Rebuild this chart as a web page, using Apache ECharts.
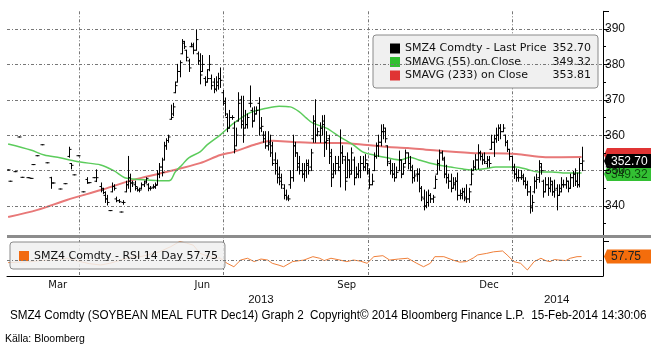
<!DOCTYPE html>
<html>
<head>
<meta charset="utf-8">
<script src="https://cdn.jsdelivr.net/npm/echarts@6/dist/echarts.min.js"></script>
<style>
  html, body { margin: 0; padding: 0; background: #fff; }
  #chart { width: 651px; height: 351px; }
</style>
</head>
<body>
<div id="chart"></div>
<script>
// trading calendar (x axis is by trading day, like the terminal does)
const firstDay = '2013-02-12';
const dayCount = 264;
const holidays = ['2013-02-18', '2013-03-29', '2013-05-27', '2013-07-04', '2013-09-02',
  '2013-11-28', '2013-12-25', '2014-01-01', '2014-01-20', '2014-02-17'];
const monthNames = ['Jan', 'Feb', 'Mar', 'Apr', 'May', 'Jun', 'Jul', 'Aug', 'Sep', 'Oct', 'Nov', 'Dec'];
const labelMonths = ['Mar', 'Jun', 'Sep', 'Dec'];
const quarterMonths = [0, 3, 6, 9];
const priceTicks = [340, 350, 360, 370, 380, 390];

// daily bars [open, high, low, close], null = no trade
const feb13 = [
  [350.2, 350.2, 350.2, 350.2], [347, 347, 347, 347], null, [349.7, 349.7, 349.7, 349.7],
  null, [359.5, 359.5, 359.5, 359.5], [348.1, 348.1, 348.1, 348.1], null,
  null, [348, 348, 348, 348], [347.8, 347.8, 347.8, 347.8], [351.7, 351.7, 351.7, 351.7]
];
const mar13 = [
  null, [354.2, 354.2, 354.2, 354.2], null, [357.3, 357.3, 357.3, 357.3], null,
  [352.2, 352.2, 352.2, 352.2], null, [348, 348.1, 345, 346.5], [346.5, 346.5, 346.5, 346.5], null,
  null, [344.8, 344.8, 344.8, 344.8], null, [346.3, 346.3, 346.3, 346.3], null,
  [354, 356.6, 353.8, 356], [352, 352, 350.5, 351.5], [348.8, 348.8, 348.8, 348.8], null, [354.2, 354.2, 354.2, 354.2]
];
const apr13 = [
  null, [344, 344, 344, 344], null, [347.5, 348, 346.4, 346.5], [346.6, 346.6, 346.6, 346.6],
  null, [348, 348, 348, 348], [347, 350.2, 346.9, 348], null, [345.5, 346.5, 344, 345],
  [344.5, 345, 343.5, 343.8], [343, 344, 341, 342], [342, 343, 340.3, 341], [338.7, 338.7, 338.7, 338.7],
  [344, 346.5, 344, 345.5], [345.5, 346, 344.5, 345], [342, 342.5, 341.2, 341.5], [341.5, 341.8, 341, 341.2],
  [338.3, 338.3, 338.3, 338.3], [341, 341.5, 340.5, 341], [344, 347, 344, 346], [346, 354, 345, 348]
];
const may13 = [
  [347, 349, 344, 346.5], [346.5, 347, 345.5, 346.5], [346, 347, 344.5, 345.5], [345, 345.2, 344.2, 344.5],
  [344.5, 345, 344, 344.5], [345, 346.5, 344.8, 346], [346, 347, 345.5, 346.5], [347, 348, 346.5, 347.8],
  [346, 346.3, 344.3, 345], [345, 345.5, 344.5, 345], [345.3, 346, 345, 345.3], [345.5, 346.5, 345, 345.8],
  [346, 350, 346, 349], [349, 352, 348, 351], [351, 353.5, 348.5, 349.5], [353, 358, 353, 357],
  [357, 359, 356, 358.5], [358.5, 360, 358, 359.5], [364.5, 368.5, 364.5, 365], [366, 369, 365.5, 368],
  [372, 375, 372, 374], [375, 380, 375, 378]
];
const jun13 = [
  [378, 381, 376.5, 380.5], [383, 387, 383, 386.5], [386, 386.5, 384.5, 385], [384, 384, 381, 382],
  [381, 381.5, 378, 379], [385, 386, 385, 385.5], [385, 386, 383, 384], [384, 389.7, 384, 387],
  [383, 383.5, 380, 381], [381, 383, 374.5, 377], [378, 382.5, 378, 380], [376, 376.5, 374, 375],
  [375, 378.5, 375, 376], [378.5, 382.5, 378.2, 380], [376, 377, 373, 374], [375, 376, 372, 373],
  [373, 376.5, 372.5, 375], [374, 377.5, 373, 376], [376, 379, 373.5, 375.5], [372, 372.7, 368.5, 369.5]
];
const jul13 = [
  [369, 370.5, 365.5, 366], [365, 366, 361, 362], [362, 367, 362, 365], [365, 365.5, 364.5, 365],
  [362, 363.7, 355, 356], [357, 362, 357, 360], [364, 372, 364, 369], [370, 371, 362, 364],
  [363, 371, 358, 360], [362, 367, 362, 363], [363, 366, 362, 365], [369, 373.9, 368, 369],
  [367, 367.7, 362.3, 364], [364, 368, 364, 366], [366, 368, 366, 367], [369, 370.6, 360, 362],
  [362, 365, 361, 362.5], [360, 361, 358, 359], [360, 361, 356.3, 357], [357, 361, 355.8, 357.5],
  [358, 360, 354, 355], [357, 358, 351.5, 352]
];
const aug13 = [
  [353, 355, 349, 350], [352, 353, 346.5, 348], [349, 351, 346, 347], [348, 349, 345, 346],
  [345, 346, 342, 343], [343, 344.5, 341.7, 342.5], [342, 343, 341.5, 342], [346, 350, 345, 348],
  [348, 360, 347, 357], [357, 358, 354, 355], [355, 355, 350, 351], [352, 354, 349, 350],
  [350, 352, 348, 349], [349, 352, 347, 350], [350, 353, 348, 351.5], [352, 353, 349, 350],
  [351, 356, 350, 355], [359, 365.5, 358, 364], [364, 370, 358, 360], [360, 362, 359.8, 361],
  [360, 363.5, 358, 362], [362, 365.5, 360, 363]
];
const sep13 = [
  [364, 365.6, 354, 358], [358, 361, 356, 358.5], [359, 360, 352, 354], [355, 356, 345.5, 348],
  [349, 352, 348, 350], [350, 354, 349, 352], [352, 354, 350, 351], [350, 361.5, 345.4, 355],
  [355, 357, 352, 354], [353, 354, 344.5, 347], [348, 355, 348, 353], [353, 353, 348, 349],
  [350, 356.4, 349, 355], [353, 353.8, 346, 348], [348, 351, 348, 349], [349, 352, 348, 350],
  [350, 354, 348, 352], [352, 354, 350, 351], [351, 354.5, 350, 353], [352, 352, 349, 350]
];
const oct13 = [
  [350, 350.5, 345, 346], [346, 349, 346, 347], [350, 355, 350, 354], [354, 357.8, 353.5, 357],
  [357, 360, 354, 358], [358, 362.9, 357, 361], [361, 363, 359, 362], [361, 362, 358, 359],
  [357, 357, 351.4, 352.5], [352, 353, 349, 350], [350, 352, 348, 349], [349, 352, 347, 348],
  [348, 351, 348, 349.5], [350, 355.5, 350, 353], [353, 353, 348, 349], [349, 352, 349, 351],
  [352, 355.8, 352, 355], [355, 355, 350.5, 352], [352, 354, 350, 351], [350, 351.5, 346.5, 348],
  [348, 350, 347, 348.5], [349, 350.5, 347, 349], [349, 350.5, 344, 345]
];
const nov13 = [
  [345, 345.5, 341.5, 342.5], [342, 344.5, 338.9, 340], [340, 344, 339.5, 341], [341, 344.5, 340, 343],
  [343, 343.5, 341, 342], [342, 343, 341, 342.5], [345, 348.5, 345, 347.5], [349, 353, 349, 352],
  [352, 355.8, 350.2, 355], [355, 355.5, 353, 353.5], [353, 353.8, 348, 349], [349, 351.5, 346.5, 348],
  [348, 349, 345, 347], [347, 349, 344, 345], [345, 348, 345, 346.5], [346, 348, 344.5, 347],
  [347, 349.3, 341.7, 343], [343, 344.5, 342, 343.5], [343, 345, 342, 344], [344, 345, 341.5, 342.5]
];
const dec13 = [
  [342, 346, 341, 342], [342, 345, 341, 344], [346, 350.5, 346, 349], [350, 352.8, 350, 351],
  [351, 354.5, 350.3, 353], [353, 357.3, 350.5, 355], [355, 355.5, 353, 354], [354, 354.7, 351.8, 353],
  [353, 355, 352, 352.5], [352, 354, 351, 353], [353, 354, 351, 352], [356, 360, 356, 358],
  [358, 360, 354, 359], [359, 362, 358, 360], [360, 362.9, 358.5, 362], [362, 363, 359, 361],
  [361, 363, 361, 362], [360, 360, 357, 358], [358, 358.5, 355.4, 356], [356, 356, 353, 354],
  [354, 354, 350.2, 351]
];
const jan14 = [
  [350, 351.8, 347.8, 349], [349, 350.5, 347, 348], [348, 350.2, 347, 348], [348, 350, 347.5, 348.5],
  [348, 349, 346, 347], [347, 348, 345, 346], [346, 347, 343, 344], [344, 345.5, 338, 339.5],
  [340, 343, 338.5, 341], [344, 348.2, 343.7, 347], [347, 349, 345, 347.5], [348, 352.8, 346.7, 352],
  [351, 352, 349, 350], [347, 347.3, 342.5, 344], [344, 348, 344, 346], [346, 348, 343, 345],
  [345, 348, 344, 347], [346, 347, 343, 344], [344, 347.3, 342.5, 344.5], [345, 346, 338.9, 343],
  [343, 346, 343, 344]
];
const feb14 = [
  [345, 348, 344, 346], [346, 347.3, 345.3, 346], [346, 348, 345, 347], [347, 347, 344, 345],
  [345, 349, 345, 348], [348, 349.8, 345.5, 349], [349, 350.5, 345.8, 347], [347, 349.3, 345.3, 346],
  [346, 353.4, 345.4, 352], [352, 356.6, 350, 352.7]
];

// moving averages, [trading day index, value]
const sma55 = [
  [0, 357.5], [10, 355.8], [16, 354.4], [23, 353.6], [32, 352.4], [41, 351.6], [47, 349.9],
  [52, 347.9], [63, 347.3], [70, 347.1], [72, 347.3], [74, 349.6], [77, 351.6], [80, 353.6],
  [85, 355.3], [88, 357.2], [94, 360.1], [100, 363.4], [107, 366.3], [115, 367.7], [120, 368.2],
  [125, 368], [129, 366.6], [132, 364.9], [135, 363.4], [141, 362], [147, 359.5], [153, 357.2],
  [157, 355.3], [162, 354.4], [168, 353.6], [174, 353], [178, 353.8], [182, 353], [187, 352.1],
  [193, 351.3], [196, 351], [201, 350.5], [205, 350.2], [211, 350.5], [216, 351], [225, 351],
  [229, 350.5], [235, 349.6], [241, 349.6], [247, 349.3], [254, 349.32]
];
const sma233 = [
  [0, 336.9], [13, 338.9], [26, 341.7], [41, 344.5], [55, 347.3], [70, 349.6], [85, 352.1],
  [94, 354.4], [100, 355.3], [110, 357.5], [117, 358.4], [126, 358.1], [137, 357.8], [147, 357.8],
  [159, 357.2], [168, 356.7], [177, 356.4], [187, 355.8], [205, 355], [225, 354.7], [238, 353.8],
  [254, 353.81]
];
const rsi14 = [
  [0, 46], [5, 47], [10, 48], [14, 50], [19, 51], [23, 52], [26, 54.5], [29, 51], [32, 48],
  [36, 44], [41, 41.4], [45, 44.7], [50, 51], [55, 57.6], [59, 58], [62, 61], [67, 67], [72, 77],
  [76, 87], [79, 84], [82, 80], [85, 64], [89, 57.6], [94, 54.5], [97, 44.7], [100, 38], [103, 51],
  [106, 54.5], [109, 48], [112, 53], [115, 51], [117, 44.7], [120, 41], [122, 38], [126, 48],
  [131, 51], [135, 57.6], [138, 54.5], [140, 50], [143, 54.5], [147, 51], [150, 48], [153, 51],
  [156, 49], [159, 44.7], [162, 57.6], [166, 59.5], [169, 51], [173, 53], [177, 54.5], [181, 44.7],
  [184, 38], [187, 44.7], [189, 57.6], [193, 57.6], [197, 51], [200, 47], [203, 48], [206, 55],
  [208, 61], [212, 64], [215, 67], [219, 68.7], [221, 61], [224, 48], [227, 44.7], [230, 31.7],
  [233, 48], [236, 54.5], [238, 50], [240, 48], [242, 52], [244, 51], [247, 50], [249, 54.5],
  [252, 57.6], [254, 57.75]
];

const SANS = '"Liberation Sans", Arial, sans-serif';
const VERD = '"DejaVu Sans", Verdana, sans-serif';
const DASHDOT = [3, 2, 1, 2];

// build the trading day categories
const days = [];
let d = new Date(firstDay + 'T00:00:00Z');
while (days.length < dayCount) {
  const wd = d.getUTCDay();
  const s = d.toISOString().slice(0, 10);
  if (wd !== 0 && wd !== 6 && holidays.indexOf(s) < 0) days.push(s);
  d.setUTCDate(d.getUTCDate() + 1);
}
const monthOf = s => +s.slice(5, 7) - 1;
const isMonthStart = i => i > 0 && days[i].slice(0, 7) !== days[i - 1].slice(0, 7);
const isQuarterStart = i => isMonthStart(i) && quarterMonths.indexOf(monthOf(days[i])) >= 0;

// mid trading day of each labelled month
const monthMid = {};
const groups = {};
days.forEach((s, i) => {
  const k = s.slice(0, 7);
  (groups[k] = groups[k] || []).push(i);
});
Object.keys(groups).forEach(k => {
  const g = groups[k];
  if (labelMonths.indexOf(monthNames[monthOf(days[g[0]])]) >= 0) monthMid[g[Math.floor(g.length / 2)]] = 1;
});
// year labels centred in the visible part of each year
const yearStart = days.findIndex(s => s.slice(0, 4) === '2014');
const yearMid = {};
yearMid[Math.floor(yearStart / 2)] = 1;
yearMid[Math.floor((yearStart + dayCount) / 2) - 1] = 1;

const bars = [].concat(feb13, mar13, apr13, may13, jun13, jul13, aug13, sep13, oct13, nov13, dec13, jan14, feb14);
const ohlc = [];
bars.forEach((b, i) => { if (b) ohlc.push([i, b[0], b[1], b[2], b[3]]); });

const last = a => a[a.length - 1][1];
const lastClose = bars[bars.length - 1][3];
const legendVals = {
  'SMZ4 Comdty - Last Price': lastClose.toFixed(2),
  'SMAVG (55) on Close': last(sma55).toFixed(2),
  'SMAVG (233) on Close': last(sma233).toFixed(2)
};

function renderOhlc(params, api) {
  const i = api.value(0);
  const pO = api.coord([i, api.value(1)]);
  const yH = api.coord([i, api.value(2)])[1];
  const yL = api.coord([i, api.value(3)])[1];
  const yC = api.coord([i, api.value(4)])[1];
  const x = Math.round(pO[0]) + 0.5;
  const st = { stroke: '#000', lineWidth: 1 };
  return {
    type: 'group',
    children: [
      { type: 'line', shape: { x1: x, y1: yH - 0.5, x2: x, y2: yL + 0.5 }, style: st },
      { type: 'line', shape: { x1: x - 2, y1: pO[1], x2: x, y2: pO[1] }, style: st },
      { type: 'line', shape: { x1: x, y1: yC, x2: x + 2, y2: yC }, style: st }
    ]
  };
}

const chart = echarts.init(document.getElementById('chart'));
const option = {
  animation: false,
  backgroundColor: '#fff',
  title: [
    {
      text: 'Källa: Bloomberg', left: 5, top: 334, padding: 0,
      textStyle: { fontFamily: SANS, fontSize: 10.5, fontWeight: 'normal', color: '#000' }
    }
  ],
  legend: [
    {
      orient: 'vertical', left: 373, top: 35, padding: [8, 7, 7, 17],
      itemWidth: 10, itemHeight: 10, itemGap: 2.5, icon: 'rect', selectedMode: false,
      backgroundColor: '#f0f0f0', borderColor: '#8a8a8a', borderWidth: 1, borderRadius: 3,
      data: [
        { name: 'SMZ4 Comdty - Last Price', itemStyle: { color: '#000' } },
        { name: 'SMAVG (55) on Close', itemStyle: { color: '#2fbf2f' } },
        { name: 'SMAVG (233) on Close', itemStyle: { color: '#e03434' } }
      ],
      formatter: name => '{n|' + name + '}{v|' + legendVals[name] + '}',
      textStyle: {
        rich: {
          n: { width: 147, fontFamily: VERD, fontSize: 11, lineHeight: 12, color: '#111' },
          v: { width: 39, align: 'right', fontFamily: VERD, fontSize: 11, lineHeight: 12, color: '#111' }
        }
      }
    },
    {
      orient: 'vertical', left: 10, top: 242, padding: [8, 7, 7, 9],
      itemWidth: 10, itemHeight: 10, icon: 'rect', selectedMode: false,
      backgroundColor: 'rgba(240,240,240,0.85)', borderColor: '#8a8a8a', borderWidth: 1, borderRadius: 3,
      data: [{ name: 'SMZ4 Comdty - RSI 14 Day', itemStyle: { color: '#f26a10' } }],
      formatter: name => name + ' ' + last(rsi14).toFixed(2),
      textStyle: { fontFamily: VERD, fontSize: 11, lineHeight: 12, color: '#111' }
    }
  ],
  grid: [
    { left: 7, right: 48, top: 11.3, height: 230.1 },
    { left: 7, right: 48, top: 240, height: 36 }
  ],
  xAxis: [
    {
      type: 'category', gridIndex: 0, data: days, boundaryGap: true,
      axisLine: { show: false }, axisTick: { show: false }, axisLabel: { show: false },
      splitLine: { show: true, interval: isQuarterStart, lineStyle: { color: '#777', type: DASHDOT } }
    },
    {
      type: 'category', gridIndex: 1, data: days, boundaryGap: true,
      axisLine: { lineStyle: { color: '#000' } },
      axisTick: { interval: isMonthStart, length: 3, lineStyle: { color: '#000' } },
      axisLabel: {
        interval: i => monthMid[i] === 1, margin: 4,
        formatter: v => monthNames[monthOf(v)],
        fontFamily: VERD, fontSize: 10, color: '#111'
      },
      splitLine: { show: true, interval: isQuarterStart, lineStyle: { color: '#777', type: DASHDOT } }
    },
    {
      type: 'category', gridIndex: 1, data: days, boundaryGap: true, position: 'bottom', offset: 16,
      axisLine: { show: false },
      axisTick: { interval: i => i === yearStart, alignWithLabel: true, length: 15, lineStyle: { color: '#555' } },
      axisLabel: {
        interval: i => yearMid[i] === 1, margin: 2,
        formatter: v => v.slice(0, 4),
        fontFamily: SANS, fontSize: 11.5, color: '#111'
      },
      splitLine: { show: false }
    }
  ],
  yAxis: [
    {
      type: 'value', gridIndex: 0, position: 'right', min: 330, max: 395, interval: 10,
      axisLine: { show: true, lineStyle: { color: '#000' } },
      axisTick: { show: true, length: 6, lineStyle: { color: '#000' } },
      minorTick: { show: true, splitNumber: 2, length: 3, lineStyle: { color: '#000' } },
      splitLine: { show: false },
      axisLabel: {
        margin: 2, fontFamily: SANS, fontSize: 12, color: '#111',
        formatter: v => (priceTicks.indexOf(v) >= 0 ? String(v) : '')
      }
    },
    {
      type: 'value', gridIndex: 1, position: 'right', min: 20, max: 90,
      axisLine: { show: true, lineStyle: { color: '#000' } },
      axisTick: { show: false }, axisLabel: { show: false }, splitLine: { show: false }
    }
  ],
  series: [
    {
      name: 'gridlines', type: 'line', xAxisIndex: 0, yAxisIndex: 0, data: [], z: 1,
      markLine: {
        silent: true, symbol: 'none', label: { show: false },
        lineStyle: { color: '#777', type: DASHDOT, width: 1 },
        data: priceTicks.map(v => ({ yAxis: v }))
      }
    },
    {
      name: 'SMAVG (233) on Close', type: 'line', xAxisIndex: 0, yAxisIndex: 0, data: sma233,
      smooth: 0.3, showSymbol: false, z: 3,
      itemStyle: { color: '#e03434' }, lineStyle: { color: '#e87878', width: 2 }
    },
    {
      name: 'SMAVG (55) on Close', type: 'line', xAxisIndex: 0, yAxisIndex: 0, data: sma55,
      smooth: 0.3, showSymbol: false, z: 3,
      itemStyle: { color: '#2fbf2f' }, lineStyle: { color: '#5ccc5c', width: 1.5 }
    },
    {
      name: 'SMZ4 Comdty - Last Price', type: 'custom', xAxisIndex: 0, yAxisIndex: 0,
      data: ohlc, renderItem: renderOhlc, encode: { x: 0, y: [1, 2, 3, 4] }, z: 5, clip: true,
      itemStyle: { color: '#000' }
    },
    {
      name: 'SMZ4 Comdty - RSI 14 Day', type: 'line', xAxisIndex: 1, yAxisIndex: 1, data: rsi14,
      showSymbol: false, z: 3,
      itemStyle: { color: '#f26a10' }, lineStyle: { color: '#f0803a', width: 1 },
      markLine: {
        silent: true, symbol: 'none', label: { show: false },
        lineStyle: { color: '#777', type: DASHDOT, width: 1 },
        data: [{ yAxis: 50 }]
      }
    }
  ]
};
chart.setOption(option);

// last value tags on the right axis
function tag(y, fill, color, text, z) {
  const h = 7;
  const children = [
    { type: 'polygon', shape: { points: [[604, y], [607, y - h], [651, y - h], [651, y + h], [607, y + h]] }, style: { fill: fill } }
  ];
  if (text) {
    children.push({ type: 'text', style: { x: 611, y: y + 0.5, text: text, fill: color, font: '12px ' + SANS, verticalAlign: 'middle' } });
  }
  return { type: 'group', z: z, children: children };
}
const yPrice = v => chart.convertToPixel({ yAxisIndex: 0 }, v);
const yRsi = v => chart.convertToPixel({ yAxisIndex: 1 }, v);
chart.setOption({
  graphic: [
    { type: 'rect', z: 50, shape: { x: 7, y: 235, width: 644, height: 3 }, style: { fill: '#8c8c8c' } },
    {
      type: 'group', z: 60,
      children: [
        { type: 'rect', shape: { x: 379.5, y: 44.5, width: 6, height: 6 }, style: { fill: '#fff', stroke: '#333', lineWidth: 1 } },
        { type: 'line', shape: { x1: 381, y1: 47.5, x2: 384, y2: 47.5 }, style: { stroke: '#333', lineWidth: 1 } },
        { type: 'line', shape: { x1: 382.5, y1: 50.5, x2: 382.5, y2: 78.5 }, style: { stroke: '#333', lineWidth: 1 } },
        { type: 'line', shape: { x1: 382.5, y1: 63.5, x2: 389, y2: 63.5 }, style: { stroke: '#333', lineWidth: 1 } },
        { type: 'line', shape: { x1: 382.5, y1: 78.5, x2: 389, y2: 78.5 }, style: { stroke: '#333', lineWidth: 1 } }
      ]
    },
    {
      type: 'text', z: 60,
      style: {
        x: 10, y: 316, verticalAlign: 'middle', fill: '#000', font: '12px ' + SANS,
        text: 'SMZ4 Comdty (SOYBEAN MEAL FUTR Dec14) Graph 2  Copyright\u00a9 2014 Bloomberg Finance L.P.  15-Feb-2014 14:30:06'
      },
      scaleX: 0.972, originX: 10
    },
    tag(yPrice(last(sma233)) - 2, '#e03434', '#000', '', 70),
    tag(yPrice(last(sma55)) + 1, '#33c033', '#0d4d0d', last(sma55).toFixed(2), 71),
    tag(yPrice(lastClose), '#000', '#fff', lastClose.toFixed(2), 72),
    tag(yRsi(last(rsi14)), '#f46d0c', '#222', last(rsi14).toFixed(2), 73)
  ]
});
</script>
</body>
</html>
